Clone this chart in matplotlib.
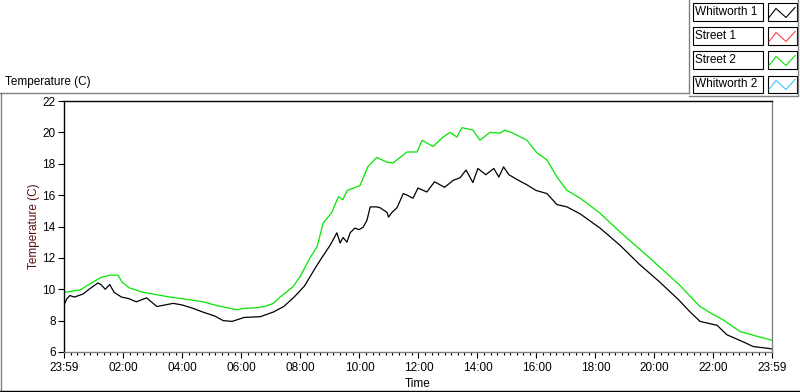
#!/usr/bin/env python3
"""Temperatura ao longo do dia: Whitworth vs Street (estilo painel LabVIEW)."""

import matplotlib
matplotlib.use("Agg")
import matplotlib.pyplot as plt
from matplotlib.lines import Line2D
from matplotlib.patches import Rectangle
from matplotlib.ticker import FixedLocator

# horas desde 23:59
whitworth1_t = [0.00, 0.10, 0.20, 0.35, 0.50, 0.65, 0.85, 1.00, 1.15, 1.25, 1.40, 1.55,
                1.70, 1.95, 2.20, 2.45, 2.80, 3.15, 3.70, 4.00, 4.35, 4.70, 5.10, 5.40,
                5.70, 6.10, 6.65, 7.10, 7.45, 7.80, 8.15, 8.50, 8.70, 9.02, 9.25, 9.36,
                9.46, 9.59, 9.70, 9.86, 10.00, 10.14, 10.27, 10.38, 10.60, 10.71, 10.95,
                11.00, 11.12, 11.29, 11.50, 11.63, 11.83, 12.00, 12.30,
                12.56, 12.90, 13.20, 13.42, 13.63, 13.86, 14.03, 14.30, 14.57, 14.74,
                14.90, 15.08, 15.40, 15.70, 16.00, 16.37, 16.71, 17.05, 17.50, 18.17,
                18.85, 19.50, 20.20, 20.85, 21.20, 21.56, 22.14, 22.47, 23.02,
                23.36, 24.00]
whitworth1_v = [9.0, 9.4, 9.6, 9.5, 9.6, 9.7, 10.0, 10.2, 10.4, 10.3, 10.0, 10.3,
                9.8, 9.5, 9.4, 9.2, 9.45, 8.9, 9.1, 9.0, 8.8, 8.55, 8.3, 8.0,
                7.95, 8.2, 8.25, 8.55, 8.9, 9.5, 10.2, 11.3, 11.9, 12.8, 13.6, 12.95,
                13.3, 13.0, 13.6, 13.9, 13.8, 13.95, 14.4, 15.25, 15.25, 15.2, 14.9,
                14.6, 14.9, 15.2, 16.1, 16.0, 15.8, 16.45, 16.2,
                16.85, 16.5, 16.95, 17.1, 17.6, 16.8, 17.7, 17.3, 17.7, 17.15,
                17.8, 17.3, 16.95, 16.65, 16.3, 16.1, 15.4, 15.25, 14.8, 13.9,
                12.8, 11.6, 10.45, 9.3, 8.6, 7.95, 7.7, 7.1, 6.65,
                6.35, 6.2]

street2_t = [0.00, 0.35, 0.55, 0.75, 0.98, 1.25, 1.56, 1.83, 1.97, 2.20, 2.68, 3.00,
             3.60, 4.00, 4.71, 5.20, 5.86, 6.20, 6.41, 6.80, 7.10, 7.32, 7.76, 8.00,
             8.34, 8.58, 8.78, 9.08, 9.30, 9.45, 9.60, 10.03, 10.30, 10.60, 10.95,
             11.15, 11.63, 11.97, 12.14, 12.51, 12.85, 13.08, 13.32, 13.49, 13.86,
             14.10, 14.44, 14.78, 14.95, 15.22, 15.69, 16.03, 16.37, 16.71, 17.05,
             17.50, 18.17, 18.85, 19.85, 20.85, 21.56, 22.00, 22.34, 22.92, 23.49,
             24.00]
street2_v = [9.8, 9.9, 9.95, 10.2, 10.45, 10.75, 10.9, 10.9, 10.45, 10.1, 9.8, 9.7,
             9.5, 9.4, 9.2, 8.95, 8.7, 8.8, 8.8, 8.9, 9.1, 9.5, 10.15, 10.8,
             12.0, 12.7, 14.2, 14.9, 15.9, 15.7, 16.3, 16.6, 17.8, 18.4, 18.1,
             18.05, 18.75, 18.75, 19.5, 19.1, 19.7, 20.0, 19.7, 20.3, 20.15,
             19.5, 20.0, 19.95, 20.15, 19.95, 19.5, 18.7, 18.25, 17.15, 16.3,
             15.8, 14.85, 13.65, 12.0, 10.3, 8.9, 8.4, 8.05, 7.3, 7.0,
             6.75]

legend_names = ["Whitworth 1", "Street 1", "Street 2", "Whitworth 2"]
legend_colors = ["#000000", "#ff4040", "#00e600", "#40c0ff"]

xtick_pos = [0.0, 2.0167, 4.0167, 6.0167, 8.0167, 10.0167, 12.0167, 14.0167,
             16.0167, 18.0167, 20.0167, 22.0167, 24.0]
xtick_labels = ["23:59", "02:00", "04:00", "06:00", "08:00", "10:00", "12:00",
                "14:00", "16:00", "18:00", "20:00", "22:00", "23:59"]
ytick_pos = [6, 8, 10, 12, 14, 16, 18, 20, 22]

FONT = "Liberation Sans"
plt.rcParams["font.family"] = FONT
plt.rcParams["font.size"] = 8.5

W, H = 800, 392
fig = plt.figure(figsize=(8, 3.92), dpi=100)


def fx(px):
    return px / W


def fy(py):
    return 1 - py / H


def fig_line(x0, y0, x1, y1, color="#808080", lw=1.0):
    fig.add_artist(Line2D([fx(x0), fx(x1)], [fy(y0), fy(y1)], color=color,
                          lw=lw, transform=fig.transFigure))


# moldura do painel
fig_line(0, 92.5, 689, 92.5)
fig_line(1, 92.5, 1, 390.5)
fig_line(0, 390.5, 800, 390.5, color="#000000")
fig_line(689, 0, 689, 92.5)
fig_line(689, 95.5, 797, 95.5)
fig_line(797.5, 0, 797.5, 95.5)

fig.text(fx(5), fy(82), "Temperature (C)", fontsize=8.5, va="center", ha="left")

# legenda
for i, (name, col) in enumerate(zip(legend_names, legend_colors)):
    top = 3.5 + i * 24
    h = 17
    fig.add_artist(Rectangle((fx(692.5), fy(top + h)), fx(70), h / H, fill=False,
                             ec="#000000", lw=0.8, transform=fig.transFigure))
    fig.text(fx(695), fy(top + h / 2), name, fontsize=8.5, va="center", ha="left")
    fig.add_artist(Rectangle((fx(767.5), fy(top + h)), fx(29), h / H, fill=False,
                             ec="#000000", lw=0.8, transform=fig.transFigure))
    zx = [769, 776, 786, 795]
    zy = [top + 14, top + 5, top + 14, top + 4]
    fig.add_artist(Line2D([fx(v) for v in zx], [fy(v) for v in zy], color=col,
                          lw=0.8, transform=fig.transFigure))

ax = fig.add_axes([fx(64), fy(352), fx(772 - 64), (352 - 101) / H])
ax.plot(whitworth1_t, whitworth1_v, color=legend_colors[0], lw=0.9)
ax.plot(street2_t, street2_v, color=legend_colors[2], lw=0.9)

ax.set_xlim(0, 24)
ax.set_ylim(6, 22)
ax.set_xticks(xtick_pos)
ax.set_xticklabels(xtick_labels)
minor = []
for a, b in zip(xtick_pos[:-1], xtick_pos[1:]):
    minor += [a + (b - a) * k / 9 for k in range(1, 9)]
ax.xaxis.set_minor_locator(FixedLocator(minor))
ax.set_yticks(ytick_pos)

ax.tick_params(axis="both", which="major", direction="out", length=4, width=0.8,
               labelsize=8.5, pad=2)
ax.tick_params(axis="x", which="major", pad=3)
ax.tick_params(axis="x", which="minor", direction="out", length=2.5, width=0.8)

ax.spines["left"].set_color("#000000")
ax.spines["top"].set_color("#000000")
ax.spines["right"].set_color("#808080")
ax.spines["bottom"].set_color("#808080")
for s in ax.spines.values():
    s.set_linewidth(1.0)

ax.set_xlabel("Time", fontsize=8.5, labelpad=3)
ax.set_ylabel("Temperature (C)", fontsize=8.5, color="#5a1010", labelpad=2)

fig.savefig("out.png", dpi=100)
